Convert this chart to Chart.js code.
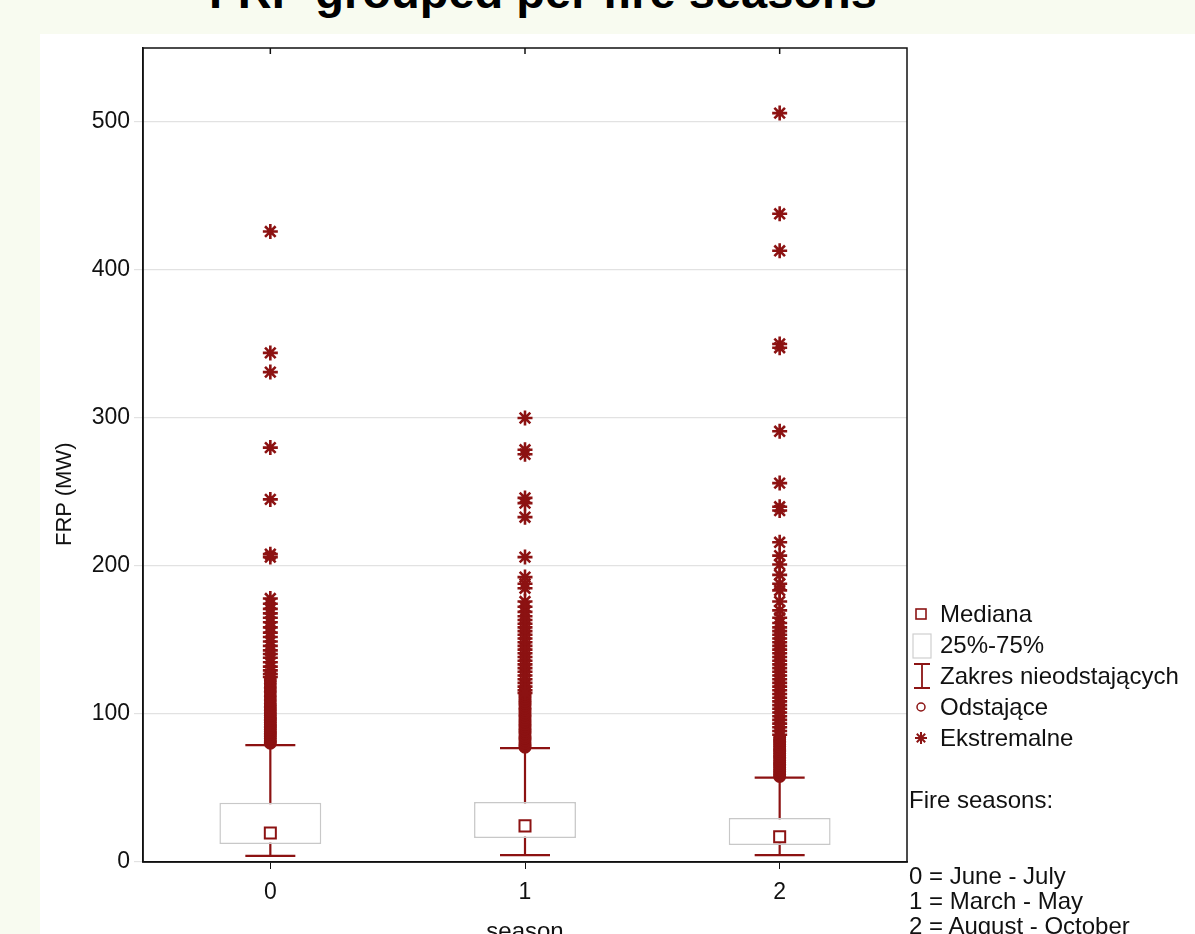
<!DOCTYPE html>
<html>
<head>
<meta charset="utf-8">
<script src="https://cdn.jsdelivr.net/npm/chart.js@4.4.1/dist/chart.umd.min.js"></script>
<style>
  html, body { margin: 0; padding: 0; width: 1195px; height: 934px; overflow: hidden; background: #f8fbf0; font-family: "Liberation Sans", Arial, sans-serif; }
  #paper { position: absolute; left: 40px; top: 34px; right: 0; bottom: 0; background: #fff; }
  #wrap { position: absolute; left: 0; top: 0; width: 1195px; height: 950px; }
  #title { position: absolute; left: 0; width: 1086px; top: -32px; line-height: 47px; font-size: 47px; font-weight: bold; text-align: center; color: #000; white-space: nowrap; }
  #ytitle { position: absolute; left: 14px; top: 482px; width: 100px; height: 28px; line-height: 28px; font-size: 22px; color: #111; text-align: center; transform: rotate(-90deg); white-space: nowrap; }
  .leg { position: absolute; left: 940px; font-size: 24px; line-height: 28px; color: #111; white-space: nowrap; }
  .sym { position: absolute; }
</style>
</head>
<body>
<div id="paper"></div>
<div id="title">FRP grouped per fire seasons</div>
<div id="wrap"><canvas id="chart" width="1195" height="950"></canvas></div>
<div id="ytitle">FRP (MW)</div>

<svg class="sym" style="left:915px;top:608px" width="12" height="12"><rect x="1" y="1" width="10" height="10" fill="#fff" stroke="#8c1414" stroke-width="1.6"/></svg>
<div class="leg" style="top:600px">Mediana</div>
<svg class="sym" style="left:912px;top:633px" width="20" height="26"><rect x="1" y="1" width="18" height="24" fill="#fff" stroke="#cfcfcf" stroke-width="1.2"/></svg>
<div class="leg" style="top:631px">25%-75%</div>
<svg class="sym" style="left:912px;top:662px" width="20" height="28"><path d="M2 2 H18 M10 2 V26 M2 26 H18" stroke="#8c1414" stroke-width="1.8" fill="none"/></svg>
<div class="leg" style="top:662px">Zakres nieodstających</div>
<svg class="sym" style="left:915px;top:701px" width="12" height="12"><circle cx="6" cy="6" r="4" fill="#fff" stroke="#8c1414" stroke-width="1.5"/></svg>
<div class="leg" style="top:693px">Odstające</div>
<svg class="sym" style="left:914px;top:731px" width="14" height="14"><path d="M7 1 V13 M1 7 H13 M2.8 2.8 L11.2 11.2 M11.2 2.8 L2.8 11.2" stroke="#8c1414" stroke-width="2"/></svg>
<div class="leg" style="top:724px">Ekstremalne</div>
<div class="leg" style="left:909px;top:786px">Fire seasons:</div>
<div class="leg" style="left:909px;top:862px">0 = June - July</div>
<div class="leg" style="left:909px;top:887px">1 = March - May</div>
<div class="leg" style="left:909px;top:912px">2 = August - October</div>

<script>
// box plot summary per season
const categories = ['0', '1', '2'];
const q1 = [12.2, 16.2, 11.5];
const q3 = [40.0, 40.6, 29.8];
const medians = [19.6, 24.4, 17.0];
const whiskerLow = [4.1, 4.7, 4.7];
const whiskerHigh = [79, 77, 57];
const yTicks = [0, 100, 200, 300, 400, 500];

// outliers (circles) and extremes (stars)
const outliers0 = [80.3, 81.8, 83.4, 84.9, 86.5, 88.0, 89.6, 91.1, 92.7, 94.2, 95.8, 97.4, 99.0, 100.7, 102.5, 104.6, 107.0, 109.5, 112.0, 114.8, 117.5, 120.5, 123.0];
const outliers1 = [77.6, 79.2, 80.5, 82.3, 83.9, 85.2, 87.0, 88.4, 90.1, 91.7, 93.0, 94.8, 96.2, 97.9, 99.5, 101.0, 102.6, 104.1, 105.9, 107.3, 108.8, 110.6, 112.2, 113.5];
const outliers2 = [57.8, 59.3, 60.9, 62.4, 64.0, 65.5, 67.1, 68.6, 70.2, 71.8, 73.3, 74.9, 76.4, 78.0, 79.5, 81.1, 82.6, 84.2];
const extremes0 = [426, 344, 331, 280, 245, 208, 206, 178, 174.5, 171, 168, 165, 162, 158.5, 155, 152, 149, 146, 143, 140.5, 138, 135, 132, 129.5, 127, 125];
const extremes1 = [300, 278.5, 275.5, 246, 242.5, 233, 206, 192.5, 188, 185, 176, 172.5, 169, 166, 163.5, 161, 158.5, 156, 153.5, 151, 148.5, 146, 143.5, 141, 138.5, 136, 133.5, 131, 128.5, 126, 123.5, 121, 118.5, 116, 114.2];
const extremes2 = [506, 438, 413, 350, 347.5, 291, 256, 240, 237.5, 216, 207, 201, 194, 188, 183.5, 176, 170, 165, 161.5, 158.5, 156, 153.5, 151, 148.5, 146, 143.5, 141, 138.5, 136, 133.5, 131, 128.5, 126, 123.5, 121, 118.5, 116, 113.5, 111, 108.5, 106, 103.5, 101, 98.5, 96, 93.5, 91, 88.5, 86];

const RED = '#8c1212';
const FONT = '"Liberation Sans", Arial, sans-serif';

const pts = (c, arr) => arr.map(v => ({ x: c, y: v }));

const whiskers = categories.map((c, i) => ({
  type: 'line',
  data: [{ x: c, y: whiskerLow[i] }, { x: c, y: whiskerHigh[i] }],
  borderColor: RED,
  borderWidth: 2.2,
  pointStyle: 'line',
  pointRadius: 25,
  pointBorderColor: RED,
  pointBorderWidth: 2.2,
  order: 5
}));

const frame = {
  id: 'frame',
  afterDraw(chart) {
    const { ctx, chartArea: a, scales: { x } } = chart;
    ctx.save();
    ctx.strokeStyle = '#111';
    ctx.lineWidth = 1.5;
    ctx.strokeRect(a.left, a.top, a.right - a.left, a.bottom - a.top);
    categories.forEach((c, i) => {
      const px = x.getPixelForValue(i);
      ctx.beginPath();
      ctx.moveTo(px, a.top);
      ctx.lineTo(px, a.top + 6);
      ctx.stroke();
    });
    ctx.restore();
  }
};

new Chart(document.getElementById('chart'), {
  data: {
    labels: categories,
    datasets: [
      ...whiskers,
      {
        type: 'bar',
        data: q1.map((v, i) => [v, q3[i]]),
        backgroundColor: '#ffffff',
        borderColor: '#c8c8c8',
        borderWidth: 1.5,
        borderSkipped: false,
        barPercentage: 0.4,
        categoryPercentage: 1,
        order: 4
      },
      {
        type: 'line',
        showLine: false,
        data: [...pts('0', outliers0), ...pts('1', outliers1), ...pts('2', outliers2)],
        pointStyle: 'circle',
        pointRadius: 5.5,
        pointBackgroundColor: RED,
        pointBorderColor: RED,
        pointBorderWidth: 2,
        order: 3
      },
      {
        type: 'line',
        showLine: false,
        data: [...pts('0', extremes0), ...pts('1', extremes1), ...pts('2', extremes2)],
        pointStyle: 'star',
        pointRadius: 7.5,
        pointBorderColor: RED,
        pointBorderWidth: 2.6,
        order: 2
      },
      {
        type: 'line',
        showLine: false,
        data: categories.map((c, i) => ({ x: c, y: medians[i] })),
        pointStyle: 'rect',
        pointRadius: 7.8,
        pointBackgroundColor: '#ffffff',
        pointBorderColor: RED,
        pointBorderWidth: 2,
        order: 1
      }
    ]
  },
  options: {
    responsive: false,
    animation: false,
    devicePixelRatio: 1,
    layout: { padding: { left: 40, top: 48, right: 288, bottom: 0 } },
    plugins: { legend: { display: false }, tooltip: { enabled: false } },
    scales: {
      x: {
        type: 'category',
        offset: true,
        grid: { display: true, offset: false, drawOnChartArea: false, color: '#111', tickLength: 7 },
        border: { color: '#111', width: 1.5 },
        ticks: { color: '#111', padding: 10, font: { family: FONT, size: 23 } },
        title: { display: true, text: 'season', color: '#111', padding: { top: 0, bottom: 3 }, font: { family: FONT, size: 24 } },
        afterFit: s => { s.height = 88; }
      },
      y: {
        min: 0,
        max: 550,
        afterBuildTicks: s => { s.ticks = yTicks.map(v => ({ value: v })); },
        grid: { color: '#e2e2e2', lineWidth: 1.2, tickLength: 9 },
        border: { color: '#111', width: 1.5 },
        ticks: { color: '#111', padding: 4, font: { family: FONT, size: 23 } },
        title: { display: false },
        afterFit: s => { s.width = 103; }
      }
    }
  },
  plugins: [frame]
});
</script>
</body>
</html>
